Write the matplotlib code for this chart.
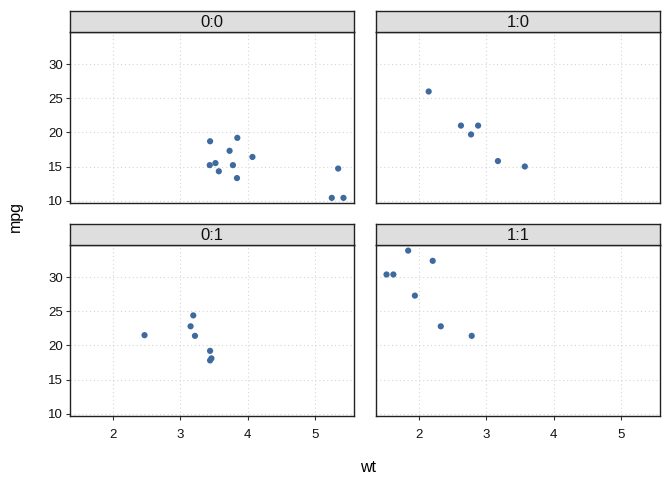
import matplotlib
matplotlib.use('Agg')
import matplotlib.pyplot as plt

plt.rcParams['font.family'] = ['Liberation Sans', 'DejaVu Sans']

# mtcars, split by am:vs
panels = ['0:0', '1:0', '0:1', '1:1']

wt_00 = [3.440, 3.570, 4.070, 3.730, 3.780, 5.250, 5.424, 5.345, 3.520, 3.435, 3.840, 3.845]
mpg_00 = [18.7, 14.3, 16.4, 17.3, 15.2, 10.4, 10.4, 14.7, 15.5, 15.2, 13.3, 19.2]

wt_10 = [2.620, 2.875, 2.140, 3.170, 2.770, 3.570]
mpg_10 = [21.0, 21.0, 26.0, 15.8, 19.7, 15.0]

wt_01 = [3.215, 3.460, 3.190, 3.150, 3.440, 3.440, 2.465]
mpg_01 = [21.4, 18.1, 24.4, 22.8, 19.2, 17.8, 21.5]

wt_11 = [2.320, 2.200, 1.615, 1.835, 1.935, 1.513, 2.780]
mpg_11 = [22.8, 32.4, 30.4, 33.9, 27.3, 30.4, 21.4]

data = [(wt_00, mpg_00), (wt_10, mpg_10), (wt_01, mpg_01), (wt_11, mpg_11)]

x_ticks = [2, 3, 4, 5]
y_ticks = [10, 15, 20, 25, 30]

all_wt = wt_00 + wt_10 + wt_01 + wt_11
all_mpg = mpg_00 + mpg_10 + mpg_01 + mpg_11
xr = max(all_wt) - min(all_wt)
yr = max(all_mpg) - min(all_mpg)
xlim = (min(all_wt) - 0.04 * xr, max(all_wt) + 0.04 * xr)
ylim = (min(all_mpg) - 0.032 * yr, max(all_mpg) + 0.035 * yr)

W, H = 672, 480
fig = plt.figure(figsize=(W / 100, H / 100), dpi=100)

lefts = [70, 376, 70, 376]
tops = [32, 32, 245, 245]
pw, ph, sh = 284, 171, 21

pt_color = '#3F6A9F'

for i, (name, (x, y)) in enumerate(zip(panels, data)):
    l, t = lefts[i], tops[i]
    ax = fig.add_axes([l / W, (H - t - ph) / H, pw / W, ph / H])
    ax.scatter(x, y, s=20, color=pt_color, edgecolors='none', zorder=3)
    ax.set_xlim(xlim)
    ax.set_ylim(ylim)
    ax.set_xticks(x_ticks)
    ax.set_yticks(y_ticks)
    ax.grid(True, color='#D5D5D5', linestyle=(0, (1, 2.5)), linewidth=0.8)
    ax.set_axisbelow(True)
    for sp in ax.spines.values():
        sp.set_color('#222222')
        sp.set_linewidth(1.0)
    ax.tick_params(length=3, width=0.8, color='#333333', labelsize=9.5,
                   labelcolor='#111111', pad=2)
    ax.tick_params(axis='x', pad=6)
    if i < 2:
        ax.tick_params(axis='x', bottom=False, labelbottom=False)
    if i % 2 == 1:
        ax.tick_params(axis='y', left=False, labelleft=False)

    # facet strip
    sax = fig.add_axes([l / W, (H - t) / H, pw / W, sh / H])
    sax.set_facecolor('#DEDEDE')
    sax.set_xticks([])
    sax.set_yticks([])
    for sp in sax.spines.values():
        sp.set_color('#222222')
        sp.set_linewidth(1.0)
    sax.text(0.5, 0.45, name, ha='center', va='center', fontsize=12,
             color='#111111', transform=sax.transAxes)

fig.text(15 / W, 1 - 217 / H, 'mpg', rotation=90, ha='center', va='center', fontsize=11.5)
fig.text(368 / W, 1 - 468 / H, 'wt', ha='center', va='center', fontsize=11.5)

fig.savefig('out.png', dpi=100)
